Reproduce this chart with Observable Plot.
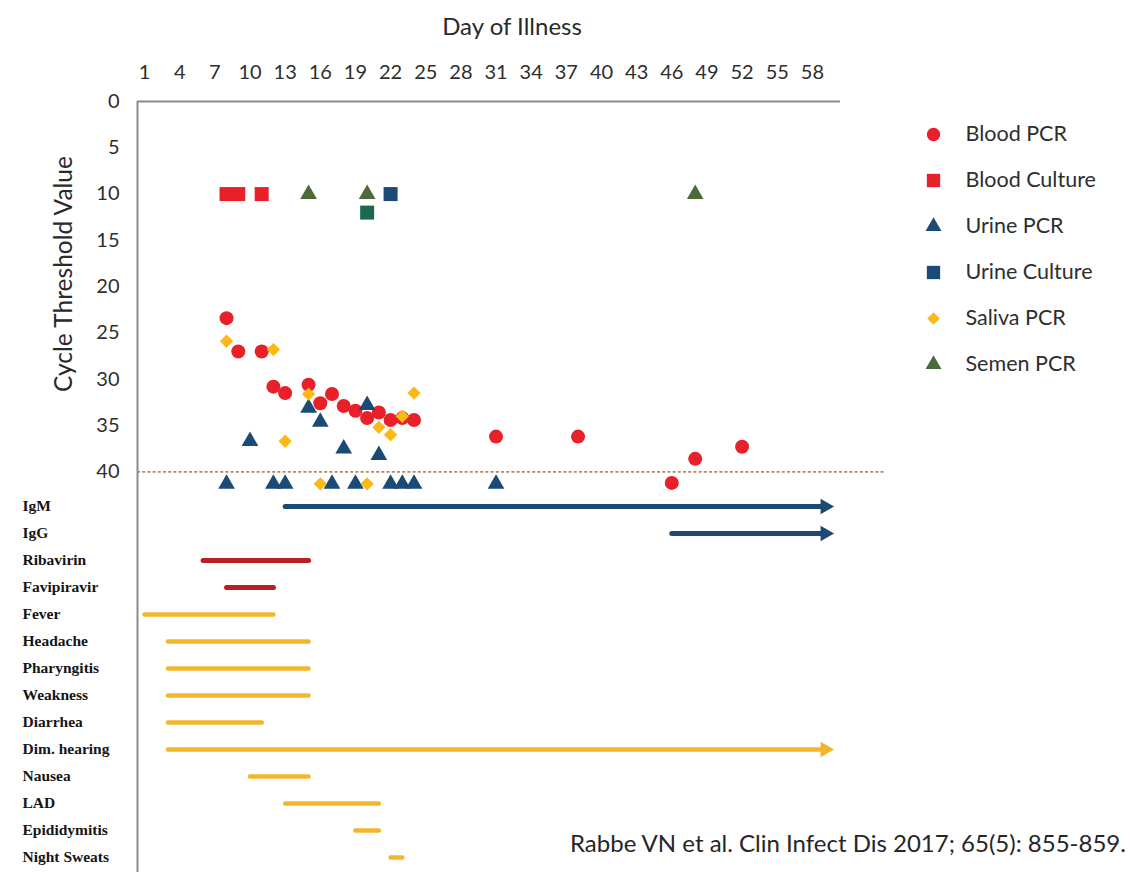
<!DOCTYPE html>
<html>
<head>
<meta charset="utf-8">
<script src="https://cdn.jsdelivr.net/npm/d3@7"></script>
<script src="https://cdn.jsdelivr.net/npm/@observablehq/plot@0.6"></script>
<style>
  html, body { margin: 0; padding: 0; background: #fff; }
  #wrap { position: relative; width: 1130px; height: 872px; overflow: hidden; background: #fff; }
  #wrap > svg { position: absolute; left: 0; top: 0; }
  #caption { position: absolute; left: 570px; top: 828px; font-family: Lato, sans-serif; font-size: 24px; color: #262626; white-space: nowrap; }
</style>
</head>
<body>
<div id="wrap"><div id="caption">Rabbe VN et al. Clin Infect Dis 2017; 65(5): 855-859.</div></div>
<script>
// ---------- data ----------
const dayTicks = [1, 4, 7, 10, 13, 16, 19, 22, 25, 28, 31, 34, 37, 40, 43, 46, 49, 52, 55, 58];
const ctTicks = [0, 5, 10, 15, 20, 25, 30, 35, 40];
const cutoffCt = 40;

const bloodPcrDays = [8, 9, 11, 12, 13, 15, 16, 17, 18, 19, 20, 21, 22, 23, 24, 31, 38, 46, 48, 52];
const bloodPcrCt   = [23.4, 27.0, 27.0, 30.8, 31.5, 30.6, 32.6, 31.6, 32.9, 33.4, 34.2, 33.6, 34.4, 34.2, 34.4, 36.2, 36.2, 41.2, 38.6, 37.3];

const bloodCultureDays = [8, 9, 11];
const bloodCultureCt   = [10, 10, 10];

const urinePcrDays = [10, 15, 16, 18, 20, 21, 8, 12, 13, 17, 19, 22, 23, 24, 31];
const urinePcrCt   = [36.7, 33.1, 34.6, 37.5, 32.8, 38.2, 41.3, 41.3, 41.3, 41.3, 41.3, 41.3, 41.3, 41.3, 41.3];

const urineCultureDays = [22];
const urineCultureCt   = [10];

const semenCultureDays = [20];
const semenCultureCt   = [12];

const salivaPcrDays = [8, 12, 13, 15, 21, 22, 23, 24, 16, 20];
const salivaPcrCt   = [25.9, 26.8, 36.7, 31.6, 35.2, 36.0, 34.0, 31.5, 41.3, 41.3];

const semenPcrDays = [15, 20, 48];
const semenPcrCt   = [10, 10, 10];

const legendNames = ["Blood PCR", "Blood Culture", "Urine PCR", "Urine Culture", "Saliva PCR", "Semen PCR"];

const rowLabels = ["IgM", "IgG", "Ribavirin", "Favipiravir", "Fever", "Headache", "Pharyngitis", "Weakness",
                   "Diarrhea", "Dim. hearing", "Nausea", "LAD", "Epididymitis", "Night Sweats"];
const rowStart  = [13, 46, 6, 8, 1, 3, 3, 3, 3, 3, 10, 13, 19, 22];
const rowEnd    = [59, 59, 15, 12, 12, 15, 15, 15, 11, 59, 15, 21, 21, 23];
const rowOngoing = [true, true, false, false, false, false, false, false, false, true, false, false, false, false];
const rowKind   = ["antibody", "antibody", "drug", "drug", "symptom", "symptom", "symptom", "symptom",
                   "symptom", "symptom", "symptom", "symptom", "symptom", "symptom"];

// ---------- styles ----------
const seriesStyle = {
  "Blood PCR":     {symbol: "circle",   fill: "#e8202a", r: 7},
  "Blood Culture": {symbol: "square",   fill: "#e8202a", r: 7.9},
  "Urine PCR":     {symbol: "triangle", fill: "#1b4a76", r: 6.2},
  "Urine Culture": {symbol: "square",   fill: "#1b4a76", r: 7.9},
  "Semen Culture": {symbol: "square",   fill: "#1c6a4e", r: 7.9},
  "Saliva PCR":    {symbol: "diamond2", fill: "#fbb817", r: 6},
  "Semen PCR":     {symbol: "triangle", fill: "#4d6a3b", r: 6.2}
};
const kindColor = {antibody: "#1d4a72", drug: "#b71f27", symptom: "#f3b62a"};
const axisGray = "#8b8b8b";
const sans = "Lato, 'Open Sans', sans-serif";

// ---------- tables ----------
const points = [];
function addSeries(name, days, cts) { days.forEach((d, i) => points.push({series: name, day: d, ct: cts[i]})); }
addSeries("Blood PCR", bloodPcrDays, bloodPcrCt);
addSeries("Blood Culture", bloodCultureDays, bloodCultureCt);
addSeries("Urine PCR", urinePcrDays, urinePcrCt);
addSeries("Urine Culture", urineCultureDays, urineCultureCt);
addSeries("Semen Culture", semenCultureDays, semenCultureCt);
addSeries("Saliva PCR", salivaPcrDays, salivaPcrCt);
addSeries("Semen PCR", semenPcrDays, semenPcrCt);
const drawOrder = ["Blood PCR", "Blood Culture", "Urine PCR", "Urine Culture", "Semen Culture", "Saliva PCR", "Semen PCR"];

const bars = rowLabels.map((label, i) => ({label, start: rowStart[i], end: rowEnd[i], ongoing: rowOngoing[i], kind: rowKind[i]}));

const xDomain = [0.4, 60.4];
const xRange = [137, 840];
const cutoffSpan = [0.4, 64.2];

const wrap = document.getElementById("wrap");

// ---------- scatter (top) ----------
const scatterPlot = Plot.plot({
  width: 1130, height: 872,
  marginLeft: 137, marginRight: 290, marginTop: 101, marginBottom: 378,
  style: {background: "transparent", overflow: "visible"},
  x: {domain: xDomain, range: xRange},
  y: {domain: [0, 40], range: [101, 471.3]},
  marks: [
    Plot.ruleY([0], {stroke: axisGray, strokeWidth: 2}),
    Plot.ruleX([xDomain[0]], {stroke: axisGray, strokeWidth: 2}),
    Plot.ruleY([cutoffCt], {x1: cutoffSpan[0], x2: cutoffSpan[1], stroke: "#b8875a", strokeWidth: 1.8, strokeDasharray: "3,2.2"}),
    Plot.axisX({anchor: "top", ticks: dayTicks, tickSize: 0, tickPadding: 23, tickFormat: d => String(d),
                fontSize: 20, fontFamily: sans, fill: "#2e2e2e", label: null}),
    Plot.axisY({anchor: "left", ticks: ctTicks, tickSize: 0, tickPadding: 18, tickFormat: d => String(d),
                fontSize: 20, fontFamily: sans, fill: "#2e2e2e", label: null}),
    Plot.text(["Day of Illness"], {frameAnchor: "top", textAnchor: "middle", dx: 23, dy: -74, fontSize: 24, fontFamily: sans, fill: "#2a2a2a", lineAnchor: "middle"}),
    Plot.text(["Cycle Threshold Value"], {frameAnchor: "left", textAnchor: "middle", rotate: -90, dx: -73, dy: -24, fontSize: 24.5, fontFamily: sans, fill: "#2a2a2a", lineAnchor: "middle"}),
    ...drawOrder.map(name => Plot.dot(points.filter(p => p.series === name), {
      x: "day", y: "ct", symbol: seriesStyle[name].symbol, fill: seriesStyle[name].fill, r: seriesStyle[name].r, stroke: "none"
    }))
  ]
});
wrap.appendChild(scatterPlot);

// ---------- timeline (bottom) ----------
const timelinePlot = Plot.plot({
  width: 1130, height: 872,
  marginLeft: 137, marginRight: 290, marginTop: 494, marginBottom: 0,
  style: {background: "transparent", overflow: "visible"},
  x: {domain: xDomain, range: xRange, axis: null},
  y: {type: "point", domain: rowLabels, range: [500.7, 862.3], padding: 0},
  marks: [
    Plot.ruleX([xDomain[0]], {stroke: axisGray, strokeWidth: 2}),
    Plot.axisY({anchor: "left", tickSize: 0, tickPadding: 0, textAnchor: "start", dx: -115,
                fontSize: 15.5, fontFamily: "'Liberation Serif', 'DejaVu Serif', serif", fontWeight: "bold", fill: "#151515", label: null}),
    Plot.link(bars, {x1: "start", x2: "end", y1: "label", y2: "label",
                     stroke: d => kindColor[d.kind], strokeWidth: d => d.kind === "symptom" ? 4.5 : 5, strokeLinecap: "round"}),
    Plot.dot(bars.filter(d => d.ongoing), {x: "end", y: "label", symbol: "triangle", rotate: 90, r: 5.8, dx: 1,
                     fill: d => kindColor[d.kind], stroke: "none"})
  ]
});
wrap.appendChild(timelinePlot);

// ---------- legend ----------
const legendPlot = Plot.plot({
  width: 1130, height: 872,
  marginLeft: 933, marginRight: 0, marginTop: 0, marginBottom: 0,
  style: {background: "transparent", overflow: "visible"},
  x: {axis: null},
  y: {type: "point", domain: legendNames, range: [133, 365], padding: 0, axis: null},
  marks: [
    ...legendNames.map(name => Plot.dot([name], {y: d => d, frameAnchor: "left",
      symbol: seriesStyle[name].symbol, fill: seriesStyle[name].fill, r: seriesStyle[name].r * 0.95, stroke: "none"})),
    Plot.text(legendNames, {y: d => d, frameAnchor: "left", dx: 32, textAnchor: "start",
      fontSize: 21.5, fontFamily: sans, fill: "#2e2e2e"})
  ]
});
wrap.appendChild(legendPlot);
</script>
</body>
</html>
